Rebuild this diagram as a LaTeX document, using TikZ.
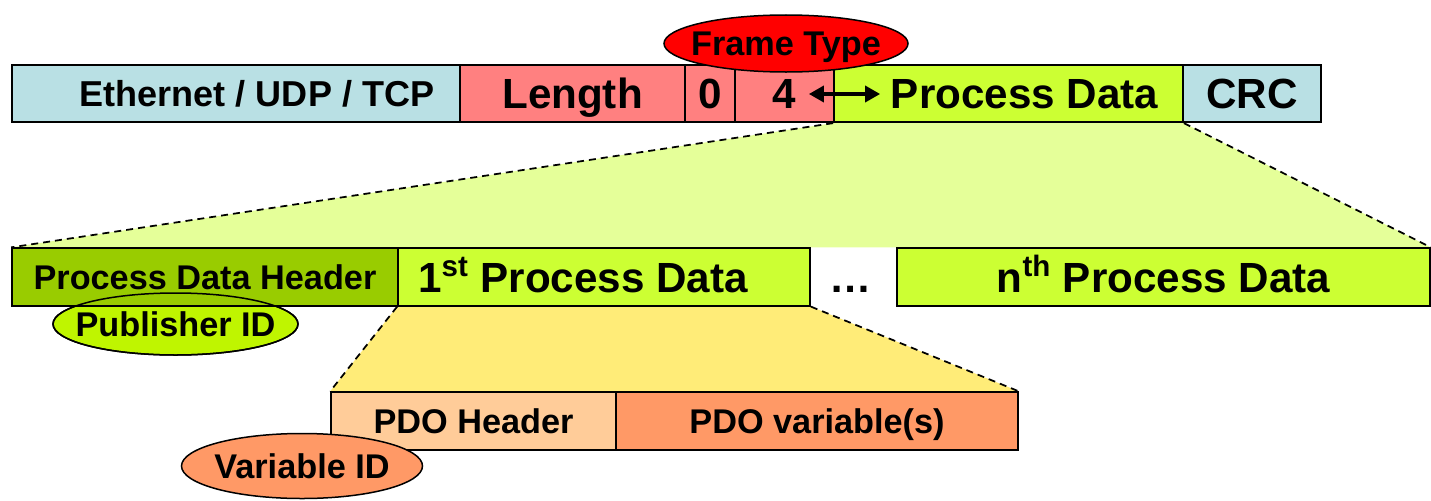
\documentclass[tikz,border=0pt]{standalone}
\usepackage{fontspec}
\setmainfont{Liberation Sans}
\usetikzlibrary{shapes.geometric}
\usetikzlibrary{backgrounds}
\usetikzlibrary{arrows.meta}
\definecolor{color_frame_eth}{HTML}{B9E0E4}
\definecolor{color_frame_len}{HTML}{FF8080}
\definecolor{color_frame_type}{HTML}{FF0000}
\definecolor{color_pd}{HTML}{CCFF33}
\definecolor{color_pd_header}{HTML}{99CC00}
\definecolor{color_pd_publisher}{HTML}{BFF500}
\definecolor{color_zoom_pd}{HTML}{E5FF99}
\definecolor{color_zoom_first}{HTML}{FFEC78}
\definecolor{color_pdo_header}{HTML}{FFCC99}
\definecolor{color_pdo_var}{HTML}{FF9966}
\tikzset{
    field/.style={rectangle, draw=black, line width=0.35mm, inner sep=0pt, minimum height=11.5mm,
        font=\bfseries\fontsize{24}{28}\selectfont, text height=17.2pt, text depth=0pt},
    fieldsmall/.style={field, font=\bfseries\fontsize{19.5}{23}\selectfont, text height=14pt},
    tag/.style={ellipse, draw=black, line width=0.3mm, inner xsep=-8mm, inner ysep=0pt,
        font=\bfseries\fontsize{19.5}{23}\selectfont, text height=14pt, text depth=0pt},
    zoomline/.style={line width=0.35mm, dash pattern=on 1.4mm off 1mm}
}

\begin{document}
\begin{tikzpicture}[x=0.2mm,y=-0.2mm]
            \useasboundingbox (0,0) rectangle (1431,500);
            % frame
            \node[field, fill=color_frame_eth, minimum width=89.6mm, font=\bfseries\fontsize{20.5}{24}\selectfont, text height=14.7pt] (eth) at (236,93.5) {\hspace{8.4mm}Ethernet / UDP / TCP};
            \node[field, fill=color_frame_len, minimum width=45mm] (len) at (572.5,93.5) {Length};
            \node[field, fill=color_frame_len, minimum width=10mm] (zero) at (710,93.5) {0};
            \node[field, fill=color_frame_len, minimum width=19.8mm] (four) at (784.5,93.5) {4};
            \node[field, fill=color_pd, minimum width=69.8mm] (pd) at (1008.5,93.5) {\hspace{6.4mm}Process Data};
            \node[field, fill=color_frame_eth, minimum width=27.6mm] (crc) at (1252,93.5) {CRC};
            \node[tag, fill=color_frame_type, minimum width=48.8mm, minimum height=11.4mm] (ftype) at (786,43.5) {Frame Type};
            \draw[{Triangle[length=3mm,width=3.2mm]}-{Triangle[length=3mm,width=3.2mm]}, line width=0.7mm] ([xshift=-5.2mm,yshift=-0.1mm]four.east) -- ([xshift=9.4mm,yshift=-0.1mm]pd.west);
            %
            % process data (publisher id sits behind the header)
            \node[tag, fill=color_pd_publisher, minimum width=49mm, minimum height=12.4mm] (publisher) at (175.5,324) {Publisher ID};
            \node[fieldsmall, fill=color_pd_header, minimum width=77.2mm] (hdr) at (205,277) {Process Data Header};
            \draw[line width=0.3mm] (publisher.center) ellipse [x radius=24.5mm, y radius=6.2mm];
            \node[field, fill=color_pd, minimum width=82.4mm] (first) at (604,277) {1\textsuperscript{st} Process Data\kern8.4mm};
            \node[field, draw=none] (dots) at (851,277) {…};
            \node[field, fill=color_pd, minimum width=106.6mm] (nth) at (1163.5,277) {n\textsuperscript{th} Process Data};
            %
            % pdo
            \node[fieldsmall, fill=color_pdo_header, minimum width=57mm] (pdohdr) at (473.5,421) {PDO Header};
            \node[fieldsmall, fill=color_pdo_var, minimum width=80.4mm] (pdovar) at (817,421) {PDO variable(s)};
            \node[tag, fill=color_pdo_var, minimum width=48.2mm, minimum height=13mm] (varid) at (302,466) {Variable ID};
            %
            % zoom areas
            \begin{scope}[on background layer]
                \fill[color_zoom_pd] (pd.south west) -- (pd.south east) -- (nth.north east) -- (hdr.north west) -- cycle;
                \fill[color_zoom_first] (first.south west) -- (first.south east) -- (pdovar.north east) -- (pdohdr.north west) -- cycle;
                \draw[zoomline] (pd.south west) -- (hdr.north west);
                \draw[zoomline] (pd.south east) -- (nth.north east);
                \draw[zoomline] (first.south west) -- (pdohdr.north west);
                \draw[zoomline] (first.south east) -- (pdovar.north east);
            \end{scope}
\end{tikzpicture}
\end{document}
